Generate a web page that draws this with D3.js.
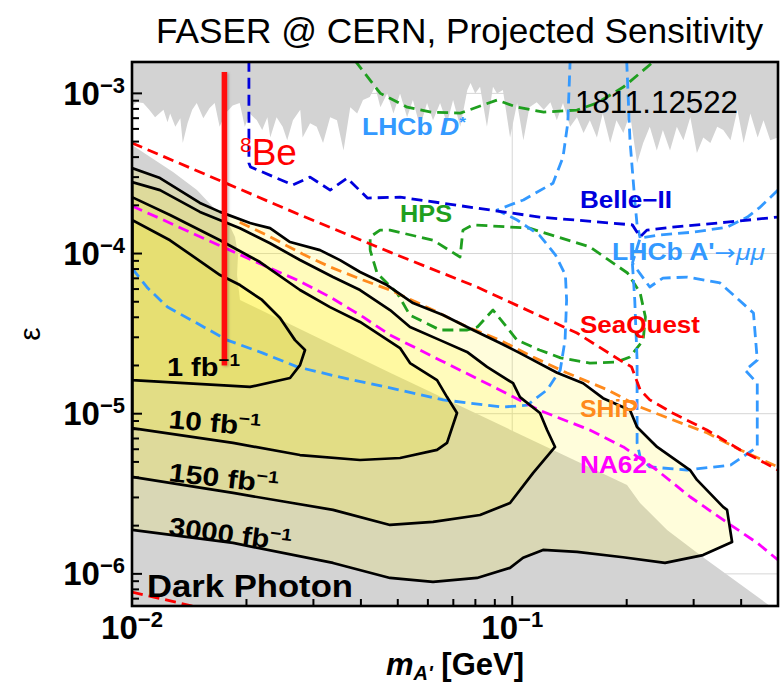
<!DOCTYPE html>
<html>
<head>
<meta charset="utf-8">
<script src="https://cdn.jsdelivr.net/npm/d3@7"></script>
<style>
  body { margin: 0; background: #fff; }
  svg { display: block; font-family: "Liberation Sans", Arial, Helvetica, sans-serif; }
</style>
</head>
<body>
<svg id="chart" width="780" height="685"></svg>
<script>
// ---- axis ranges and ticks ----
const massRange = [0.01, 0.5];          // m_A' [GeV]
const epsRange = [6.3e-7, 1.57e-3];     // kinetic mixing epsilon
const massGrid = [0.1];
const epsGrid = [1e-6, 1e-5, 1e-4, 1e-3];
const massTickLabels = [{ v: 0.01, sup: "−2" }, { v: 0.1, sup: "−1" }];
const epsTickLabels = [{ v: 1e-6, sup: "−6" }, { v: 1e-5, sup: "−5" }, { v: 1e-4, sup: "−4" }, { v: 1e-3, sup: "−3" }];

// ---- existing exclusions (grey) ----
// upper edge of the excluded band at large epsilon (prompt searches)
const promptBoundary = [
  [0.0100,8.3e-4],[0.0103,8.8e-4],[0.0107,8.7e-4],[0.0111,7.9e-4],[0.0115,7.1e-4],[0.0121,7.9e-4],
  [0.0124,6.6e-4],[0.0126,7.5e-4],[0.0130,6.2e-4],[0.0134,7.0e-4],[0.0136,4.9e-4],[0.0140,6.5e-4],
  [0.0144,7.9e-4],[0.0148,8.7e-4],[0.0154,7.0e-4],[0.0160,8.1e-4],[0.0165,8.7e-4],[0.0170,6.2e-4],
  [0.0176,7.5e-4],[0.0184,8.4e-4],[0.0192,8.7e-4],[0.0198,6.2e-4],[0.0204,7.5e-4],[0.0213,6.8e-4],
  [0.0220,5.9e-4],[0.0227,7.1e-4],[0.0231,5.3e-4],[0.0240,7.1e-4],[0.0249,6.2e-4],[0.0256,5.1e-4],
  [0.0265,6.8e-4],[0.0277,7.9e-4],[0.0281,5.3e-4],[0.0294,6.5e-4],[0.0306,6.2e-4],[0.0318,4.9e-4],
  [0.0332,7.1e-4],[0.0346,6.8e-4],[0.0360,4.4e-4],[0.0375,8.2e-4],[0.0391,7.5e-4],[0.0405,9.1e-4],
  [0.0422,9.5e-4],[0.0436,1.10e-3],[0.0450,8.2e-4],[0.0469,1.0e-3],[0.0487,7.5e-4],[0.0507,1.0e-3],
  [0.0529,7.1e-4],[0.0548,9.1e-4],[0.0572,6.2e-4],[0.0597,8.7e-4],[0.0619,6.8e-4],[0.0646,8.7e-4],
  [0.0674,6.5e-4],[0.0699,9.1e-4],[0.0730,6.2e-4],[0.0762,1.05e-3],[0.0777,1.16e-3],[0.0799,1.0e-3],
  [0.0823,1.10e-3],[0.0858,6.2e-4],[0.0890,1.10e-3],[0.0912,1.0e-3],[0.0945,1.05e-3],[0.0987,5.3e-4],
  [0.103,8.7e-4],[0.107,5.1e-4],[0.111,8.2e-4],[0.116,8.8e-4],[0.121,7.9e-4],[0.126,8.8e-4],
  [0.131,6.8e-4],[0.136,8.7e-4],[0.142,6.2e-4],[0.148,7.1e-4],[0.154,5.65e-4],[0.160,6.8e-4],
  [0.167,5.3e-4],[0.173,7.5e-4],[0.181,4.9e-4],[0.188,6.8e-4],[0.196,5.65e-4],[0.204,7.5e-4],
  [0.213,3.67e-4],[0.221,4.9e-4],[0.230,6.2e-4],[0.240,4.4e-4],[0.249,5.9e-4],[0.260,4.4e-4],
  [0.271,6.2e-4],[0.282,5.1e-4],[0.294,7.1e-4],[0.306,4.24e-4],[0.318,5.3e-4],[0.332,4.9e-4],
  [0.346,6.2e-4],[0.359,5.9e-4],[0.375,5.1e-4],[0.391,7.9e-4],[0.406,4.9e-4],[0.423,7.5e-4],
  [0.442,5.3e-4],[0.458,6.8e-4],[0.477,5.1e-4],[0.500,5.3e-4]
];
// beam dump region at small epsilon
const beamDump = [
  [0.0100,4.76e-4],[0.01282,3.23e-4],[0.01482,2.49e-4],[0.01633,1.95e-4],[0.01778,1.62e-4],
  [0.01866,1.27e-4],[0.0190,9.79e-5],[0.01889,7.34e-5],[0.01923,5.13e-5],[0.04771,1.80e-5],
  [0.2004,3.59e-6],[0.2168,2.77e-6],[0.2554,1.88e-6],[0.3175,1.27e-6],[0.4765,6.3e-7],
  [0.49,5e-7],[0.0100,5e-7]
];

// ---- FASER reach for four luminosities ----
const faser3000 = [
  [0.0100,3.42e-4],[0.01185,2.96e-4],[0.01509,2.07e-4],[0.01704,1.82e-4],[0.02044,1.55e-4],
  [0.02307,1.44e-4],[0.02604,1.18e-4],[0.03122,1.05e-4],[0.03524,9.1e-5],[0.03979,7.67e-5],
  [0.04685,6.36e-5],[0.05484,4.91e-5],[0.06577,4.13e-5],[0.07886,3.33e-5],[0.09289,2.76e-5],
  [0.1048,2.39e-5],[0.1312,1.80e-5],[0.1536,1.55e-5],[0.1733,1.25e-5],[0.2041,1.05e-5],
  [0.2129,8.26e-6],[0.2404,6.20e-6],[0.2935,4.45e-6],[0.3062,3.86e-6],[0.3585,2.62e-6],
  [0.3673,2.51e-6],[0.3786,1.58e-6],[0.3175,1.31e-6],[0.2523,1.17e-6],[0.1956,1.27e-6],
  [0.1481,1.37e-6],[0.1205,1.41e-6],[0.1068,1.26e-6],[0.09867,1.09e-6],[0.08079,9.43e-7],
  [0.0619,8.90e-7],[0.04771,9.43e-7],[0.03378,1.17e-6],[0.01844,1.56e-6],[0.0100,1.88e-6]
];
const faser150 = [
  [0.0100,2.79e-4],[0.01185,2.49e-4],[0.01509,1.82e-4],[0.01923,1.44e-4],[0.02307,1.16e-4],
  [0.02766,9.11e-5],[0.03378,7.13e-5],[0.03979,5.92e-5],[0.04771,4.44e-5],[0.05385,3.48e-5],
  [0.06458,2.88e-5],[0.07604,2.43e-5],[0.08585,1.96e-5],[0.1005,1.55e-5],[0.1048,1.27e-5],
  [0.1183,1.01e-5],[0.1235,7.91e-6],[0.1296,6.20e-6],[0.1134,4.26e-6],[0.09867,2.77e-6],
  [0.08228,2.33e-6],[0.0619,2.11e-6],[0.04771,2.02e-6],[0.03378,2.51e-6],[0.01844,3.20e-6],
  [0.0100,4.03e-6]
];
const faser10 = [
  [0.0100,2.25e-4],[0.01259,1.74e-4],[0.01704,1.21e-4],[0.02171,8.85e-5],[0.02766,5.92e-5],
  [0.03317,4.63e-5],[0.03979,3.74e-5],[0.05069,2.57e-5],[0.05385,2.07e-5],[0.06342,1.62e-5],
  [0.06738,1.27e-5],[0.07157,1.01e-5],[0.06738,6.57e-6],[0.06342,5.94e-6],[0.05069,5.29e-6],
  [0.03979,5.14e-6],[0.02766,5.52e-6],[0.01844,6.57e-6],[0.0100,8.14e-6]
];
const faser1 = [
  [0.0100,1.62e-4],[0.01259,1.21e-4],[0.01704,7.34e-5],[0.01923,6.36e-5],[0.02198,5.13e-5],
  [0.02451,3.96e-5],[0.02684,2.88e-5],[0.02851,2.50e-5],[0.02766,2.01e-5],[0.02604,1.67e-5],
  [0.02044,1.47e-5],[0.0100,1.62e-5]
];

// ---- other projected searches (dashed) ----
const seaquest = [
  [0.0100,4.90e-4],[0.0277,1.74e-4],[0.0477,1.02e-4],[0.0808,6.18e-5],[0.148,3.19e-5],
  [0.192,2.16e-5],[0.206,1.96e-5],[0.217,1.41e-5],[0.230,1.22e-5],[0.264,1.01e-5],
  [0.325,7.91e-6],[0.398,5.94e-6],[0.5,4.45e-6]
];
const seaquestLow = [[0.0100,7.7e-7],[0.0122,6.9e-7],[0.0148,6.2e-7]];
const ship = [
  [0.0192,1.57e-4],[0.0231,1.27e-4],[0.0281,9.93e-5],[0.0332,8.24e-5],[0.0405,6.83e-5],
  [0.0477,5.92e-5],[0.0619,4.44e-5],[0.0762,3.48e-5],[0.0929,2.88e-5],[0.1134,2.26e-5],
  [0.139,1.80e-5],[0.178,1.41e-5],[0.217,1.10e-5],[0.265,9.13e-6],[0.326,7.58e-6],
  [0.398,5.94e-6],[0.5,4.65e-6]
];
const na62 = [
  [0.0100,1.98e-4],[0.0121,1.62e-4],[0.0148,1.30e-4],[0.0181,1.05e-4],[0.0221,8.48e-5],
  [0.0272,6.83e-5],[0.0332,5.35e-5],[0.0405,4.02e-5],[0.0477,3.10e-5],[0.0646,2.16e-5],
  [0.0874,1.51e-5],[0.118,1.05e-5],[0.160,7.91e-6],[0.196,6.20e-6],[0.240,4.45e-6],
  [0.294,3.02e-6],[0.359,2.17e-6],[0.441,1.56e-6],[0.5,1.22e-6]
];
const hpsUpper = [
  [0.0386,1.6e-3],[0.0450,1.0e-3],[0.0529,8.2e-4],[0.0612,7.64e-4],[0.0730,7.53e-4],
  [0.0912,9.08e-4],[0.103,8.2e-4],[0.121,7.64e-4],[0.148,7.87e-4],[0.167,8.7e-4],
  [0.196,1.095e-3],[0.237,1.6e-3]
];
const hpsLower = [
  [0.0423,1.05e-4],[0.0423,1.27e-4],[0.0449,1.40e-4],[0.0477,1.40e-4],[0.0620,1.21e-4],
  [0.0729,9.51e-5],[0.0742,1.40e-4],[0.0788,1.51e-4],[0.111,1.44e-4],[0.160,1.10e-4],
  [0.201,7.56e-5],[0.217,5.67e-5],[0.224,4.02e-5],[0.221,2.88e-5],[0.204,2.26e-5],
  [0.188,2.10e-5],[0.160,2.07e-5],[0.134,2.23e-5],[0.118,2.50e-5],[0.103,2.88e-5],
  [0.089,4.44e-5],[0.0810,3.48e-5],[0.0762,3.33e-5],[0.0646,3.33e-5],[0.0538,4.13e-5],
  [0.0498,5.67e-5],[0.0441,7.56e-5],[0.0423,1.05e-4]
];
const belle2 = [
  [0.0203,1.6e-3],[0.0203,3.67e-4],[0.0205,3.47e-4],[0.0265,2.68e-4],[0.0294,3.00e-4],
  [0.0332,2.49e-4],[0.0368,2.96e-4],[0.0416,2.22e-4],[0.0507,2.25e-4],[0.0874,1.87e-4],
  [0.118,1.69e-4],[0.207,1.51e-4],[0.217,1.27e-4],[0.226,1.40e-4],[0.263,1.46e-4],
  [0.367,1.57e-4],[0.5,1.69e-4]
];
const lhcbDstar = [
  [0.0100,8.1e-5],[0.0110,6.09e-5],[0.0124,4.63e-5],[0.0148,3.68e-5],[0.0178,2.88e-5],
  [0.0221,2.39e-5],[0.0272,1.96e-5],[0.0353,1.69e-5],[0.0477,1.45e-5],[0.0658,1.22e-5],
  [0.0945,1.10e-5],[0.1094,1.13e-5],[0.1236,1.41e-5],[0.1337,1.87e-5],[0.1377,2.88e-5],
  [0.139,5.13e-5],[0.138,7.34e-5],[0.130,9.79e-5],[0.118,1.30e-4],[0.103,1.62e-4],
  [0.0912,1.87e-4],[0.107,2.16e-4],[0.128,2.75e-4],[0.136,4.0e-4],[0.140,6.53e-4],[0.142,1.6e-3]
];
const lhcbMuMuTop = [[0.200,1.6e-3],[0.204,5.11e-4],[0.210,2.16e-4],[0.213,1.51e-4],[0.217,1.25e-4]];
const lhcbMuMuRight = [
  [0.5,2.49e-4],[0.449,1.95e-4],[0.4155,1.69e-4],[0.367,1.46e-4],[0.299,1.36e-4],
  [0.240,1.30e-4],[0.217,1.25e-4],[0.207,8.72e-5]
];
const lhcbMuMuLoop = [
  [0.207,8.72e-5],[0.210,5.13e-5],[0.213,2.16e-5],[0.213,6.57e-6],[0.217,5.37e-6],
  [0.230,4.65e-6],[0.2886,4.45e-6],[0.375,4.78e-6],[0.441,6.20e-6],[0.441,1.55e-5],
  [0.410,1.87e-5],[0.441,2.16e-5],[0.431,4.25e-5],[0.352,6.55e-5],[0.289,7.13e-5],
  [0.249,7.03e-5],[0.230,6.18e-5],[0.207,8.72e-5]
];
// 8Be anomaly band (fixed mass)
const be8Mass = 0.0175;
const be8Eps = [2.0e-5, 1.36e-3];

// ---- drawing ----
const box = { left: 132, right: 778, top: 62, bottom: 606 };
const x = d3.scaleLog().domain(massRange).range([box.left, box.right]);
const y = d3.scaleLog().domain(epsRange).range([box.bottom, box.top]);
const yTopEdge = 1.6e-3;

const svg = d3.select("#chart");
const defs = svg.append("defs");
defs.append("clipPath").attr("id", "plotClip")
  .append("rect").attr("x", box.left).attr("y", box.top)
  .attr("width", box.right - box.left).attr("height", box.bottom - box.top);
const glow = defs.append("filter").attr("id", "soft")
  .attr("x", "-150%").attr("y", "-5%").attr("width", "400%").attr("height", "110%");
glow.append("feDropShadow").attr("dx", 1.5).attr("dy", 1).attr("stdDeviation", 1.3)
  .attr("flood-color", "#000").attr("flood-opacity", 0.25);

svg.append("rect").attr("width", 780).attr("height", 685).attr("fill", "#fff");

const line = d3.line().x(d => x(d[0])).y(d => y(d[1]));
const closed = pts => line(pts) + "Z";

const plot = svg.append("g").attr("clip-path", "url(#plotClip)");

// grid lines
plot.selectAll(".gx").data(massGrid).join("line")
  .attr("x1", d => x(d)).attr("x2", d => x(d)).attr("y1", box.top).attr("y2", box.bottom)
  .attr("stroke", "#d6d6d6").attr("stroke-width", 1);
plot.selectAll(".gy").data(epsGrid).join("line")
  .attr("y1", d => y(d)).attr("y2", d => y(d)).attr("x1", box.left).attr("x2", box.right)
  .attr("stroke", "#d6d6d6").attr("stroke-width", 1);

// grey exclusions
const grey = "#d3d3d3";
plot.append("path")
  .attr("d", closed([[massRange[0], yTopEdge], ...promptBoundary, [massRange[1], yTopEdge]]))
  .attr("fill", grey);
plot.append("path").attr("d", closed(beamDump)).attr("fill", grey);

// FASER reach, nested translucent fills
[faser3000, faser150, faser10, faser1].forEach(reg => {
  plot.append("path").attr("d", closed(reg))
    .attr("fill", "#fff200").attr("fill-opacity", 0.14);
});

// dashed projections
const dashed = [
  { pts: hpsUpper, c: "#1f9f1f" },
  { pts: hpsLower, c: "#1f9f1f" },
  { pts: lhcbDstar, c: "#3399ff" },
  { pts: lhcbMuMuTop, c: "#3399ff" },
  { pts: lhcbMuMuRight, c: "#3399ff" },
  { pts: lhcbMuMuLoop, c: "#3399ff" },
  { pts: belle2, c: "#0000dd" },
  { pts: na62, c: "#ff00ff" },
  { pts: ship, c: "#ff8a1c" },
  { pts: seaquest, c: "#ff0000" },
  { pts: seaquestLow, c: "#ff0000" }
];
dashed.forEach(s => {
  plot.append("path").attr("d", line(s.pts)).attr("fill", "none")
    .attr("stroke", s.c).attr("stroke-width", 2.8).attr("stroke-dasharray", "11,6")
    .attr("stroke-linejoin", "round");
});

// FASER contour outlines
[faser3000, faser150, faser10, faser1].forEach(reg => {
  plot.append("path").attr("d", closed(reg)).attr("fill", "none")
    .attr("stroke", "#000").attr("stroke-width", 2.7).attr("stroke-linejoin", "round");
});

// 8Be band, drawn as a narrow bar so the shadow filter has an area to work on
const be8Width = 5.5;
plot.append("rect")
  .attr("x", x(be8Mass) - be8Width / 2).attr("width", be8Width)
  .attr("y", y(be8Eps[1])).attr("height", y(be8Eps[0]) - y(be8Eps[1]))
  .attr("fill", "#ff1010").attr("filter", "url(#soft)");

// frame
svg.append("rect").attr("x", box.left).attr("y", box.top)
  .attr("width", box.right - box.left).attr("height", box.bottom - box.top)
  .attr("fill", "none").attr("stroke", "#000").attr("stroke-width", 2.6);

// ticks (inward)
const xTicks = [], yTicks = [];
for (let k = -2; k <= -1; k++) for (let j = 1; j <= 9; j++) {
  const v = j * Math.pow(10, k);
  if (v >= massRange[0] - 1e-12 && v <= massRange[1] + 1e-12) xTicks.push({ v, major: j === 1 });
}
for (let k = -7; k <= -3; k++) for (let j = 1; j <= 9; j++) {
  const v = j * Math.pow(10, k);
  if (v >= epsRange[0] && v <= epsRange[1]) yTicks.push({ v, major: j === 1 });
}
svg.append("g").selectAll("line").data(xTicks).join("line")
  .attr("x1", d => x(d.v)).attr("x2", d => x(d.v))
  .attr("y1", box.bottom).attr("y2", d => box.bottom - (d.major ? 10 : 7))
  .attr("stroke", "#000").attr("stroke-width", 2);
svg.append("g").selectAll("line").data(yTicks).join("line")
  .attr("y1", d => y(d.v)).attr("y2", d => y(d.v))
  .attr("x1", box.left).attr("x2", d => box.left + (d.major ? 10 : 7))
  .attr("stroke", "#000").attr("stroke-width", 2);

// text helper: parts = [{t, size, dy, italic, weight, family}]
function label(px, py, parts, o) {
  const t = svg.append("text").attr("x", px).attr("y", py)
    .attr("font-size", o.size).attr("font-weight", o.weight || "bold")
    .attr("fill", o.color || "#000");
  if (o.anchor) t.attr("text-anchor", o.anchor);
  if (o.rotate) t.attr("transform", `rotate(${o.rotate},${px},${py})`);
  if (o.length) t.attr("textLength", o.length).attr("lengthAdjust", "spacingAndGlyphs");
  parts.forEach(p => {
    const s = t.append("tspan").text(p.t);
    if (p.size) s.attr("font-size", p.size);
    if (p.dy) s.attr("dy", p.dy);
    if (p.italic) s.attr("font-style", "italic");
    if (p.weight) s.attr("font-weight", p.weight);
    if (p.family) s.attr("font-family", p.family);
  });
  return t;
}

// tick labels
epsTickLabels.forEach(d => label(125, y(d.v) + 11.5, [{ t: "10" }, { t: d.sup, size: 22, dy: -12 }], { size: 33, anchor: "end" }));
massTickLabels.forEach(d => label(x(d.v), 639, [{ t: "10" }, { t: d.sup, size: 22, dy: -12 }], { size: 33, anchor: "middle" }));

// axis titles
label(455, 675, [{ t: "m", italic: true }, { t: "A'", size: 20, dy: 5, italic: true }, { t: " [GeV]", dy: -5 }], { size: 31, anchor: "middle" });
svg.append("text").attr("transform", "translate(40,334) rotate(-90)").attr("text-anchor", "middle")
  .attr("font-size", 30).text("ε");

// title
svg.append("text").attr("x", 156).attr("y", 43).attr("font-size", 35)
  .attr("textLength", 607).attr("lengthAdjust", "spacingAndGlyphs")
  .text("FASER @ CERN, Projected Sensitivity");

// experiment labels
label(362, 135, [{ t: "LHCb " }, { t: "D", italic: true }, { t: "*", size: 15, dy: -8 }], { size: 23, color: "#3399ff", length: 104 });
label(580, 208, [{ t: "Belle−II" }], { size: 23, color: "#0000dd", length: 92 });
label(400, 222, [{ t: "HPS" }], { size: 23, color: "#1f9f1f", length: 52 });
label(612, 260, [{ t: "LHCb A'" }, { t: "→", weight: "normal", family: "DejaVu Sans", size: 22 }, { t: "μμ", italic: true, weight: "normal" }], { size: 23, color: "#3399ff", length: 153 });
label(580, 333, [{ t: "SeaQuest" }], { size: 23, color: "#ff0000", length: 120 });
label(580, 417, [{ t: "SHiP" }], { size: 23, color: "#ff8a1c", length: 58 });
label(580, 473, [{ t: "NA62" }], { size: 23, color: "#ff00ff", length: 67 });
label(575, 113, [{ t: "1811.12522" }], { size: 31, weight: "normal", length: 163 });
label(240, 165, [{ t: "8", size: 21, dy: -13 }, { t: "Be", dy: 13 }], { size: 37, weight: "normal", color: "#ff0000" });

// luminosity labels
const fbParts = n => [{ t: n + " fb" }, { t: "−1", size: 17, dy: -10 }];
label(167, 376, fbParts("1"), { size: 26, length: 73 });
label(168, 428, fbParts("10"), { size: 26, rotate: 5, length: 92 });
label(168, 481, fbParts("150"), { size: 26, rotate: 6.5, length: 110 });
label(168, 535, fbParts("3000"), { size: 26, rotate: 7.5, length: 123 });
label(147, 597, [{ t: "Dark Photon" }], { size: 31, length: 206 });
</script>
</body>
</html>
